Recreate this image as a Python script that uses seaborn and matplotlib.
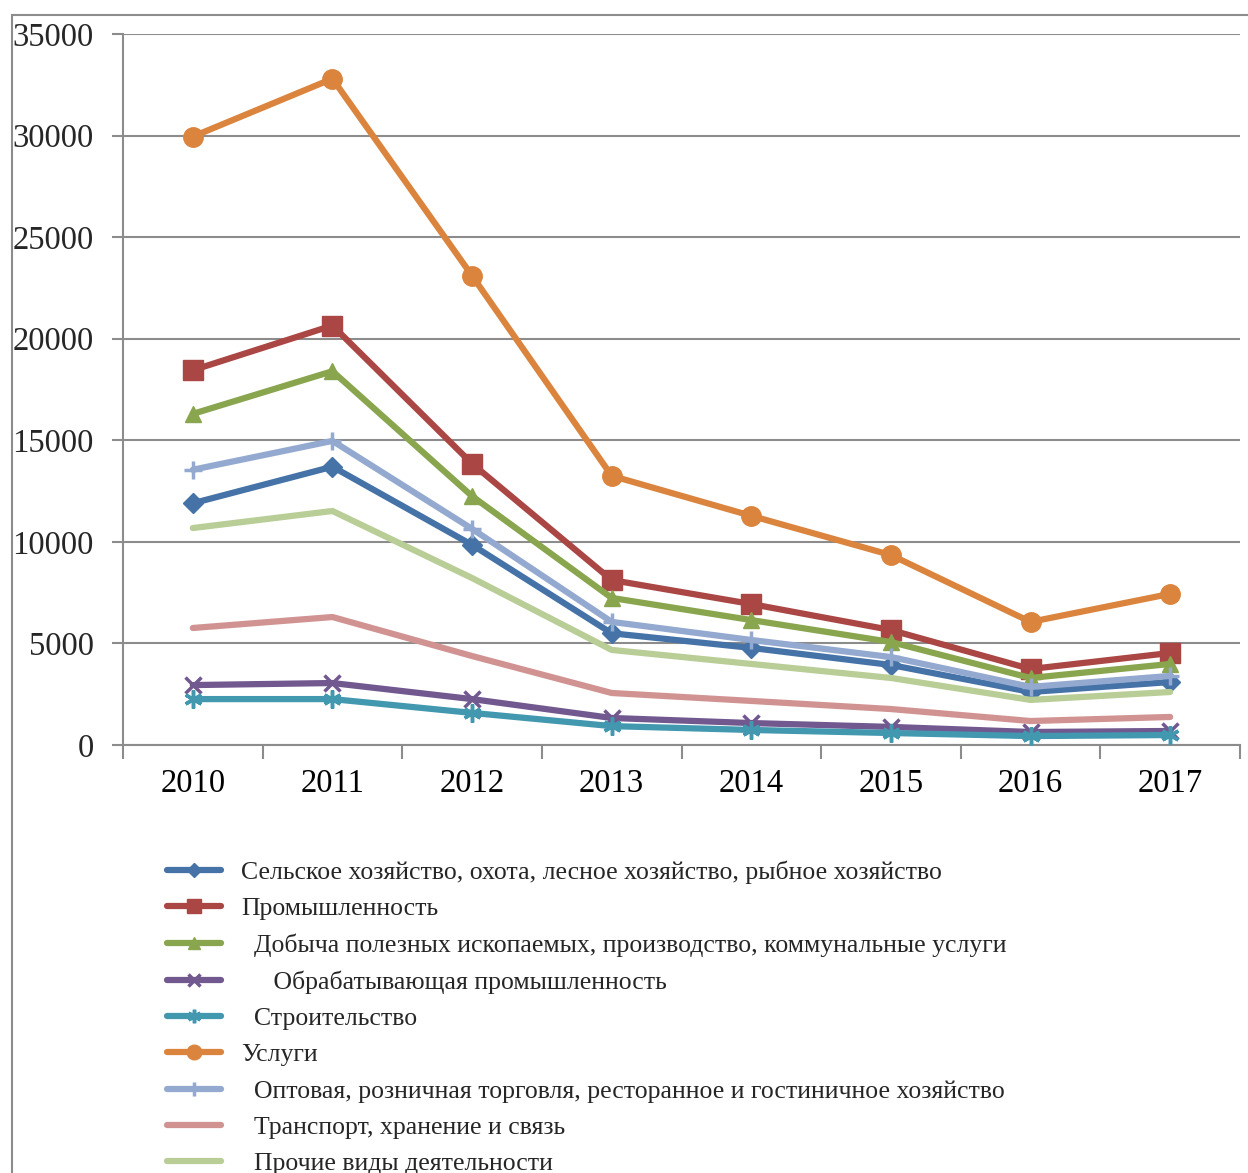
"""
Линейный график по отраслям, 2010-2017
"""
import matplotlib
matplotlib.use('Agg')
import matplotlib.pyplot as plt
import matplotlib.patches as mpatches
import seaborn as sns
import pandas as pd

# ============================================================
# Данные
# ============================================================
years = ['2010', '2011', '2012', '2013', '2014', '2015', '2016', '2017']

selskoe = [11900, 13700, 9850, 5500, 4780, 3940, 2610, 3100]
promyshl = [18450, 20650, 13850, 8120, 6940, 5660, 3740, 4530]
dobycha = [16300, 18400, 12250, 7240, 6150, 5070, 3300, 3990]
obrabat = [2950, 3050, 2260, 1330, 1080, 890, 640, 690]
stroit = [2260, 2260, 1580, 930, 740, 590, 440, 490]
uslugi = [29950, 32800, 23100, 13250, 11280, 9350, 6060, 7440]
optovaya = [13550, 14970, 10640, 6060, 5170, 4330, 2860, 3400]
transport = [5760, 6300, 4380, 2560, 2170, 1770, 1180, 1380]
prochie = [10680, 11520, 8220, 4680, 3990, 3300, 2220, 2610]

labels = [
    'Сельское хозяйство, охота, лесное хозяйство, рыбное хозяйство',
    'Промышленность',
    '  Добыча полезных ископаемых, производство, коммунальные услуги',
    '     Обрабатывающая промышленность',
    '  Строительство',
    'Услуги',
    '  Оптовая, розничная торговля, ресторанное и гостиничное хозяйство',
    '  Транспорт, хранение и связь',
    '  Прочие виды деятельности',
]
series = [selskoe, promyshl, dobycha, obrabat, stroit,
          uslugi, optovaya, transport, prochie]
colors = ['#4572A7', '#AA4643', '#89A54E', '#71588F', '#4198AF',
          '#DB843D', '#93A9CF', '#D19392', '#B9CD96']
markers = ['D', 's', '^', 'x', (6, 2, 0), 'o', '+', None, None]
msizes = [10, 14, 12, 12, 13, 14, 13, 0, 0]
mews = [1, 1, 1, 2.5, 2.5, 1, 2.5, 0, 0]

# ============================================================
# Рисунок
# ============================================================
sns.set_theme(style='white')
plt.rcParams['font.family'] = ['Liberation Serif', 'DejaVu Serif']

W, H = 1248, 1173
fig = plt.figure(figsize=(W / 100, H / 100), dpi=100)
ax = fig.add_axes([123 / W, 1 - 745 / H, (1240 - 123) / W, (745 - 34) / H])

# внешняя рамка
fig.patches.append(mpatches.Rectangle((12 / W, -0.1), 1.2, 1 - 15 / H + 0.1,
                                      transform=fig.transFigure, fill=False,
                                      edgecolor='#8c8c8c', linewidth=1.5,
                                      zorder=0))

x_pos = list(range(len(years)))
for i, (vals, lab) in enumerate(zip(series, labels)):
    df = pd.DataFrame({'x': x_pos, 'y': vals})
    mk = markers[i]
    kw = {}
    if mk is not None:
        kw = dict(marker=mk, markersize=msizes[i], markeredgewidth=mews[i],
                  markeredgecolor=colors[i], markerfacecolor=colors[i])
    sns.lineplot(data=df, x='x', y='y', ax=ax, color=colors[i], linewidth=4.5,
                 label=lab, zorder=3 + i, **kw)

ax.set_xlim(-0.5, len(years) - 0.5)
ax.set_ylim(0, 35000)
ax.set_yticks(range(0, 35001, 5000))
ax.set_yticklabels([str(v) for v in range(0, 35001, 5000)], fontsize=23.5)
ax.set_xticks(x_pos)
ax.set_xticklabels(years, fontsize=23.5)
ax.set_xticks([p - 0.5 for p in range(len(years) + 1)], minor=True)
ax.tick_params(axis='x', which='major', length=0, pad=17, colors='black')
ax.tick_params(axis='x', which='minor', length=10, width=1.5, color='#8c8c8c',
               direction='out', bottom=True)
ax.tick_params(axis='y', length=8, width=1.5, color='#8c8c8c', pad=13,
               direction='out', left=True)
ax.set_xlabel('')
ax.set_ylabel('')
ax.grid(axis='y', color='#8c8c8c', linewidth=1.5)
ax.set_axisbelow(True)
for side in ['top', 'right']:
    ax.spines[side].set_visible(False)
for side in ['left', 'bottom']:
    ax.spines[side].set_color('#8c8c8c')
    ax.spines[side].set_linewidth(1.5)

handles, labs = ax.get_legend_handles_labels()
ax.get_legend().remove()
fig.legend(handles, labs, loc='upper left', bbox_to_anchor=(167 / W, 1 - 860 / H),
           frameon=False, fontsize=18.5, handlelength=2.1, handletextpad=0.78,
           labelspacing=0.52, borderpad=0, borderaxespad=0, markerscale=0.75)

fig.savefig('out.png', dpi=100)
